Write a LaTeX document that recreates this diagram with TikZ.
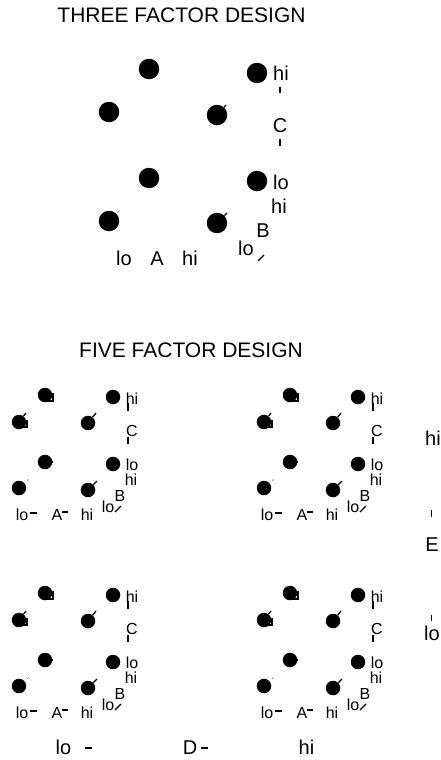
\documentclass[tikz,border=0pt]{standalone}
\usepackage{fontspec}
\setmainfont{Liberation Sans}
\usepackage{tikz}

\tikzset{
  bigdot/.style={circle,fill=black,minimum size=20.5pt,inner sep=0pt},
  smalldot/.style={circle,fill=black,minimum size=14.5pt,inner sep=0pt},
  titlelabel/.style={inner sep=0pt,font=\fontsize{21}{23}\selectfont},
  biglabel/.style={inner sep=0pt,text height=14.5pt,text depth=0pt,font=\fontsize{20}{22}\selectfont},
  smalllabel/.style={inner sep=0pt,text height=11.6pt,text depth=0pt,font=\fontsize{16}{18}\selectfont},
  axistick/.style={line width=1.4pt},
  nub/.style={line width=1.2pt},
}

\begin{document}
\begin{tikzpicture}[x=1pt,y=1pt,node distance=0pt]
      \useasboundingbox (0,0) rectangle (441,-760);

      \node[titlelabel] (t3) at (181.5,-15) {THREE FACTOR DESIGN};
      \node[titlelabel] (t5) at (191,-350) {FIVE FACTOR DESIGN};

      \node[bigdot] (1) at (149,-69) {};
      \node[bigdot,left of=1,xshift=-40,yshift=-43] (2) {};
      \node[bigdot,right of=2,xshift=108,yshift=-3] (3) {};
      \node[bigdot,right of=1,xshift=108,yshift=-4] (4) {};
      \node[bigdot,below of=1,yshift=-109] (5) {};
      \node[bigdot,below of=2,yshift=-109] (6) {};
      \node[bigdot,below of=3,yshift=-108] (7) {};
      \node[bigdot,below of=4,yshift=-108] (8) {};

      \node[biglabel,right of=4,xshift=24] (chi) {hi};
      \node[biglabel,below of=chi,xshift=-1,yshift=-52] (c) {C};
      \node[biglabel,right of=8,xshift=24,yshift=-1] (clo) {lo};
      \node[biglabel,below of=clo,xshift=-2,yshift=-24] (bhi) {hi};
      \node[biglabel,below of=bhi,xshift=-16,yshift=-24] (b) {B};
      \node[biglabel,below of=b,xshift=-17,yshift=-18] (blo) {lo};
      \node[biglabel,below of=6,xshift=15,yshift=-37] (alo) {lo};
      \node[biglabel,right of=alo,xshift=33] (a) {A};
      \node[biglabel,right of=a,xshift=33] (ahi) {hi};

      \coordinate[below of=chi,xshift=-1,yshift=-14] (c1);
      \coordinate[below of=chi,xshift=-1,yshift=-20] (c2);
      \coordinate[below of=c,yshift=-14] (c3);
      \coordinate[below of=c,yshift=-21] (c4);
      \coordinate[right of=blo,xshift=12,yshift=-13] (b1);
      \coordinate[right of=blo,xshift=18,yshift=-7] (b2);
      \coordinate[right of=3,xshift=9,yshift=10] (n3);
      \coordinate[right of=7,xshift=10,yshift=10] (n7);
      \coordinate[right of=6,xshift=8.5,yshift=8.5] (n6a);
      \coordinate[right of=6,xshift=9.5,yshift=9.5] (n6b);

      \draw[axistick] (c1) -- (c2);
      \draw[axistick] (c3) -- (c4);
      \draw[nub] (b1) -- (b2);
      \draw[nub] (3) -- (n3);
      \draw[nub] (7) -- (n7);
      \draw[line width=.6pt] (n6a) -- (n6b);

      \foreach \p/\x/\y in {a/0/0,b/245/0,c/0/198,d/245/198} {
        \begin{scope}[xshift=\x,yshift=-\y]
          \node[smalldot] (\p1) at (45,-395) {};
          \node[smalldot,left of=\p1,xshift=-26,yshift=-27] (\p2) {};
          \node[smalldot,right of=\p2,xshift=69,yshift=-1] (\p3) {};
          \node[smalldot,right of=\p1,xshift=68,yshift=-2] (\p4) {};
          \node[smalldot,below of=\p1,yshift=-67] (\p5) {};
          \node[smalldot,below of=\p2,yshift=-66] (\p6) {};
          \node[smalldot,below of=\p3,yshift=-67] (\p7) {};
          \node[smalldot,below of=\p4,yshift=-67] (\p8) {};

          \node[smalllabel,right of=\p4,xshift=19,yshift=-2] (\p-chi) {hi};
          \node[smalllabel,below of=\p-chi,yshift=-32] (\p-c) {C};
          \node[smalllabel,right of=\p8,xshift=19,yshift=-1] (\p-clo) {lo};
          \node[smalllabel,below of=\p-clo,xshift=-1,yshift=-15] (\p-bhi) {hi};
          \node[smalllabel,below of=\p-bhi,xshift=-11,yshift=-16] (\p-b) {B};
          \node[smalllabel,below of=\p-b,xshift=-12,yshift=-11] (\p-blo) {lo};
          \node[smalllabel,below of=\p6,xshift=3,yshift=-27] (\p-alo) {lo};
          \node[smalllabel,right of=\p-alo,xshift=35] (\p-a) {A};
          \node[smalllabel,right of=\p-a,xshift=30] (\p-ahi) {hi};

          \coordinate[right of=\p-chi,xshift=-4,yshift=-4] (\p-c1);
          \coordinate[right of=\p-chi,xshift=-4,yshift=-12] (\p-c2);
          \coordinate[right of=\p-c,xshift=-4,yshift=-6] (\p-c3);
          \coordinate[right of=\p-c,xshift=-4,yshift=-13] (\p-c4);
          \coordinate[right of=\p-blo,xshift=7,yshift=-5] (\p-b1);
          \coordinate[right of=\p-blo,xshift=13,yshift=1] (\p-b2);
          \coordinate[right of=\p-alo,xshift=8,yshift=2] (\p-a1);
          \coordinate[right of=\p-alo,xshift=15,yshift=2] (\p-a2);
          \coordinate[right of=\p-a,xshift=5,yshift=3] (\p-a3);
          \coordinate[right of=\p-a,xshift=11,yshift=3] (\p-a4);

          \coordinate[right of=\p2,xshift=7,yshift=9] (\p-n2);
          \coordinate[right of=\p3,xshift=8,yshift=10] (\p-n3);
          \coordinate[right of=\p5,xshift=8] (\p-n5);
          \coordinate[right of=\p6,xshift=8.5,yshift=7.5] (\p-n6a);
          \coordinate[right of=\p6,xshift=9.5,yshift=8.5] (\p-n6b);
          \coordinate[right of=\p7,xshift=9,yshift=9] (\p-n7);
          \coordinate[right of=\p1,xshift=8,yshift=2] (\p-s1);
          \coordinate[right of=\p1,xshift=8,yshift=-6] (\p-s2);
          \coordinate[right of=\p1,xshift=2,yshift=-6] (\p-s3);
          \coordinate[right of=\p2,xshift=8,yshift=2] (\p-s4);
          \coordinate[right of=\p2,xshift=8,yshift=-5] (\p-s5);
          \coordinate[right of=\p2,xshift=1,yshift=-5] (\p-s6);

          \draw[nub] (\p-c1) -- (\p-c2);
          \draw[nub] (\p-c3) -- (\p-c4);
          \draw[nub] (\p-b1) -- (\p-b2);
          \draw[axistick] (\p-a1) -- (\p-a2);
          \draw[axistick] (\p-a3) -- (\p-a4);
          \draw[nub] (\p2) -- (\p-n2);
          \draw[nub] (\p3) -- (\p-n3);
          \draw[nub] (\p5) -- (\p-n5);
          \draw[line width=.6pt] (\p-n6a) -- (\p-n6b);
          \draw[nub] (\p7) -- (\p-n7);
          \draw[nub] (\p-s1) -- (\p-s2) -- (\p-s3);
          \draw[nub] (\p-s4) -- (\p-s5) -- (\p-s6);
        \end{scope}
      }

      \node[biglabel] (ehi) at (433,-438) {hi};
      \node[biglabel,below of=ehi,xshift=-1,yshift=-106] (e) {E};
      \node[biglabel,below of=e,yshift=-89] (elo) {lo};
      \coordinate[above of=e,xshift=-0.5,yshift=27] (e1);
      \coordinate[above of=e,xshift=-0.5,yshift=34] (e2);
      \coordinate[below of=e,xshift=-0.5,yshift=-71] (e3);
      \coordinate[below of=e,xshift=-0.5,yshift=-77] (e4);
      \draw[axistick] (e1) -- (e2);
      \draw[axistick] (e3) -- (e4);

      \node[biglabel] (dlo) at (63.5,-747) {lo};
      \node[biglabel,right of=dlo,xshift=126.5] (d) {D};
      \node[biglabel,right of=d,xshift=116.5] (dhi) {hi};
      \coordinate[right of=dlo,xshift=21.5,yshift=-1] (d1);
      \coordinate[right of=dlo,xshift=28.5,yshift=-1] (d2);
      \coordinate[right of=d,xshift=11,yshift=-1] (d3);
      \coordinate[right of=d,xshift=18,yshift=-1] (d4);
      \draw[axistick] (d1) -- (d2);
      \draw[axistick] (d3) -- (d4);
    \end{tikzpicture}
\end{document}
